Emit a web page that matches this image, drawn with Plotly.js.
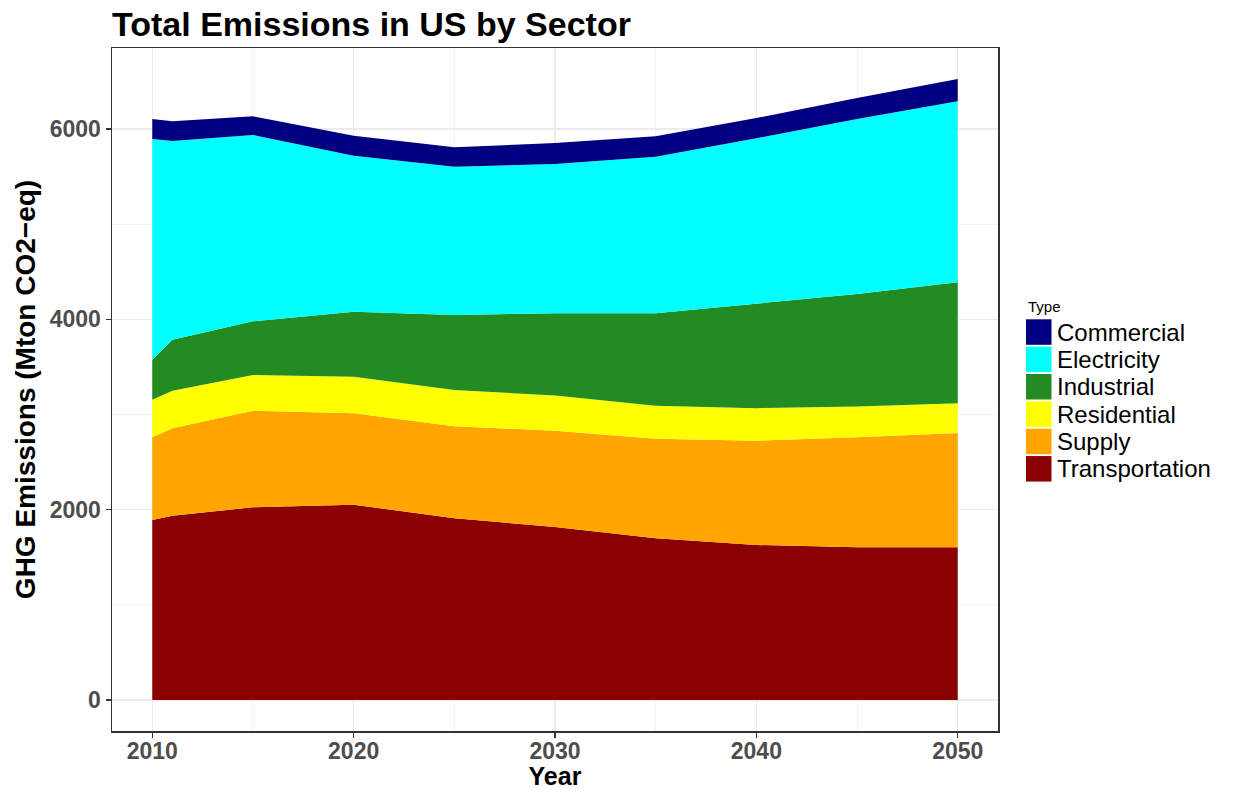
<!DOCTYPE html>
<html>
<head>
<meta charset="utf-8">
<script src="https://cdn.plot.ly/plotly-3.0.1.min.js"></script>
<style>html,body{margin:0;padding:0;background:#fff;}#chart{width:1244px;height:790px;}</style>
</head>
<body>
<div id="chart"></div>
<script>
// Data (Mton CO2-eq)
const years = [2010, 2011, 2015, 2020, 2025, 2030, 2035, 2040, 2045, 2050];
const transportation = [1891, 1937, 2025, 2052, 1909, 1818, 1699, 1629, 1604, 1604];
const supply = [869, 918, 1015, 961, 967, 1012, 1047, 1096, 1156, 1202];
const residential = [395, 395, 375, 384, 381, 370, 346, 341, 324, 313];
const industrial = [421, 536, 564, 683, 788, 863, 971, 1095, 1182, 1270];
const electricity = [2319, 2088, 1958, 1639, 1559, 1569, 1646, 1741, 1839, 1902];
const commercial = [210, 207, 196, 210, 203, 221, 214, 213, 220, 234];

const sectorNames = ['Transportation', 'Supply', 'Residential', 'Industrial', 'Electricity', 'Commercial'];
const sectorValues = [transportation, supply, residential, industrial, electricity, commercial];
const sectorColors = ['#8B0000', '#FFA500', '#FFFF00', '#228B22', '#00FFFF', '#000080'];
const xTicks = [2010, 2020, 2030, 2040, 2050];
const yTicks = [0, 2000, 4000, 6000];

const FONT = 'Liberation Sans, Arial, Helvetica, sans-serif';
const W = 1244, H = 790;
const M = {l: 112, r: 246, t: 48, b: 59};
const pw = W - M.l - M.r, ph = H - M.t - M.b;
const px2x = p => (p - M.l) / pw;
const px2y = p => (H - M.b - p) / ph;

const traces = sectorNames.map((name, i) => ({
  type: 'scatter',
  mode: 'lines',
  x: years,
  y: sectorValues[i],
  name: name,
  stackgroup: 'one',
  line: {width: 0, color: sectorColors[i]},
  fillcolor: sectorColors[i],
  hoverinfo: 'x+y+name',
  showlegend: false
}));

// Custom ggplot-style legend (top to bottom: Commercial ... Transportation)
const shapes = [];
const annotations = [];
annotations.push({
  xref: 'paper', yref: 'paper', x: px2x(1026), y: px2y(306.5),
  xanchor: 'left', yanchor: 'middle', showarrow: false,
  text: 'Type', font: {family: FONT, size: 15, color: '#000'}
});
const legendOrder = sectorNames.slice().reverse();
const legendColors = sectorColors.slice().reverse();
legendOrder.forEach((name, j) => {
  const top = 319.3 + 27.35 * j;
  const bot = top + 25.5;
  shapes.push({
    type: 'rect', xref: 'paper', yref: 'paper',
    x0: px2x(1026), x1: px2x(1051.5), y0: px2y(bot), y1: px2y(top),
    fillcolor: legendColors[j], line: {width: 0}
  });
  annotations.push({
    xref: 'paper', yref: 'paper', x: px2x(1055), y: px2y((top + bot) / 2),
    xanchor: 'left', yanchor: 'middle', showarrow: false,
    text: name, font: {family: FONT, size: 24, color: '#000'}
  });
});

const layout = {
  width: W, height: H,
  margin: M,
  paper_bgcolor: '#fff',
  plot_bgcolor: '#fff',
  font: {family: FONT},
  title: {
    text: '<b>Total Emissions in US by Sector</b>',
    font: {family: FONT, size: 34, color: '#000'},
    xref: 'container', yref: 'container',
    x: 112 / W, xanchor: 'left',
    y: 1 - 24 / H, yanchor: 'middle'
  },
  xaxis: {
    range: [2008, 2052],
    tickmode: 'array', tickvals: xTicks, ticktext: xTicks.map(String),
    tickfont: {family: FONT, size: 23, color: '#4D4D4D', weight: 'bold'},
    ticks: 'outside', ticklen: 5, tickwidth: 1.5, tickcolor: '#333333',
    ticklabelstandoff: -6,
    showline: true, linecolor: '#333333', linewidth: 1.5, mirror: true,
    showgrid: true, gridcolor: '#EBEBEB', gridwidth: 1.5,
    minor: {dtick: 5, tick0: 2010, showgrid: true, gridcolor: '#F2F2F2', gridwidth: 1, ticks: ''},
    zeroline: false,
    automargin: false,
    title: {text: '<b>Year</b>', font: {family: FONT, size: 25, color: '#000'}, standoff: 12}
  },
  yaxis: {
    range: [-326, 6851],
    tickmode: 'array', tickvals: yTicks, ticktext: yTicks.map(String),
    tickfont: {family: FONT, size: 23, color: '#4D4D4D', weight: 'bold'},
    ticks: 'outside', ticklen: 5, tickwidth: 1.5, tickcolor: '#333333',
    showline: true, linecolor: '#333333', linewidth: 1.5, mirror: true,
    showgrid: true, gridcolor: '#EBEBEB', gridwidth: 1.5,
    minor: {dtick: 1000, tick0: 0, showgrid: true, gridcolor: '#F2F2F2', gridwidth: 1, ticks: ''},
    zeroline: false,
    automargin: false,
    title: {text: '<b>GHG Emissions (Mton CO2\u2212eq)</b>', font: {family: FONT, size: 28, color: '#000'}, standoff: 6}
  },
  shapes: shapes,
  annotations: annotations,
  showlegend: false
};

Plotly.newPlot('chart', traces, layout, {displayModeBar: false, staticPlot: true});
</script>
</body>
</html>
